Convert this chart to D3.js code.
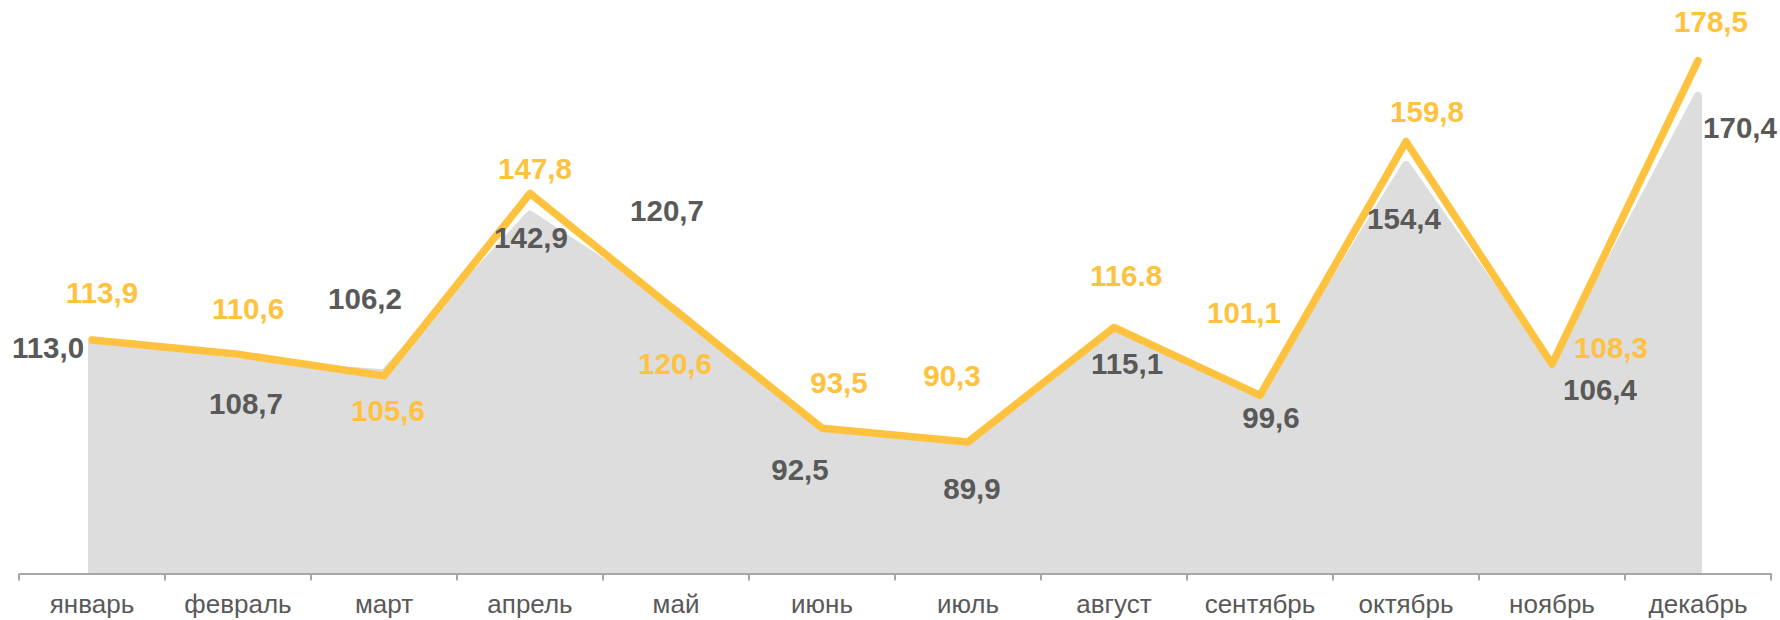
<!DOCTYPE html>
<html>
<head>
<meta charset="utf-8">
<script src="https://cdn.jsdelivr.net/npm/d3@7"></script>
<style>
  html, body { margin: 0; padding: 0; background: #ffffff; }
  svg { display: block; }
</style>
</head>
<body>
<svg id="chart" width="1780" height="620"></svg>
<script>
// ---- data ----
const months = ["январь", "февраль", "март", "апрель", "май", "июнь", "июль", "август", "сентябрь", "октябрь", "ноябрь", "декабрь"];
const yellowValues = [113.9, 110.6, 105.6, 147.8, 120.6, 93.5, 90.3, 116.8, 101.1, 159.8, 108.3, 178.5];
const grayValues   = [113.0, 108.7, 106.2, 142.9, 120.7, 92.5, 89.9, 115.1, 99.6, 154.4, 106.4, 170.4];
const yellowLabels = ["113,9", "110,6", "105,6", "147,8", "120,6", "93,5", "90,3", "116.8", "101,1", "159,8", "108,3", "178,5"];
const grayLabels   = ["113,0", "108,7", "106,2", "142,9", "120,7", "92,5", "89,9", "115,1", "99,6", "154,4", "106,4", "170,4"];

// ---- label placement (offsets from each point, px) ----
const yellowOffsets = [[10,-47],[10,-46],[4,35],[5,-25],[-1,52],[17,-46],[-16,-67],[12,-52],[-16,-83],[21,-30],[59,-17],[13,-39]];
const grayOffsets   = [[-44,4],[8,41],[-19,-75],[1,23],[-9,-100],[-22,37],[4,45],[13,29],[11,16],[-2,54],[48,17],[42,32]];

// ---- styles ----
const YELLOW = "#FFC23E";
const AREA = "#DDDDDD";
const TEXT_GRAY = "#595959";
const AXIS = "#A6A6A6";
const FONT = "'Liberation Sans', Arial, sans-serif";

const svg = d3.select("#chart");

const x = d3.scaleBand().domain(months).range([19, 1771]).padding(0);
const y = d3.scaleLinear().domain([60, 190]).range([573, 11]);
const cx = m => x(m) + x.bandwidth() / 2;

const rows = months.map((m, i) => ({ m, i, yv: yellowValues[i], gv: grayValues[i] }));

// gray area
const area = d3.area()
  .x(d => cx(d.m))
  .y0(571)
  .y1(d => y(d.gv))
  .curve(d3.curveLinear);

svg.append("path")
  .datum(rows)
  .attr("d", area)
  .attr("fill", AREA)
  .attr("stroke", AREA)
  .attr("stroke-width", 8)
  .attr("stroke-linejoin", "round");

// axis
const axis = d3.axisBottom(x).tickSize(7).tickSizeOuter(0).tickPadding(14);
const gAxis = svg.append("g").attr("transform", "translate(0,573.5)").call(axis);
gAxis.select(".domain").attr("stroke", AXIS).attr("stroke-width", 2);
// tick marks at band boundaries
gAxis.selectAll(".tick line").remove();
const bounds = months.map(m => x(m)).concat([x(months[months.length - 1]) + x.bandwidth()]);
gAxis.selectAll(".bound").data(bounds).enter().append("line")
  .attr("class", "bound")
  .attr("x1", d => d).attr("x2", d => d)
  .attr("y1", 0).attr("y2", 7)
  .attr("stroke", AXIS).attr("stroke-width", 2);
gAxis.selectAll(".tick text")
  .attr("font-family", FONT)
  .attr("font-size", 26)
  .attr("fill", TEXT_GRAY);

// yellow line
const line = d3.line().x(d => cx(d.m)).y(d => y(d.yv));
svg.append("path")
  .datum(rows)
  .attr("d", line)
  .attr("fill", "none")
  .attr("stroke", YELLOW)
  .attr("stroke-width", 7.5)
  .attr("stroke-linejoin", "round")
  .attr("stroke-linecap", "round");

// labels
svg.append("g").selectAll("text").data(rows).enter().append("text")
  .attr("x", d => cx(d.m) + grayOffsets[d.i][0])
  .attr("y", d => y(d.gv) + grayOffsets[d.i][1] + 10.5)
  .attr("text-anchor", "middle")
  .attr("font-family", FONT)
  .attr("font-weight", "bold")
  .attr("font-size", 29.5)
  .attr("fill", TEXT_GRAY)
  .text(d => grayLabels[d.i]);

svg.append("g").selectAll("text").data(rows).enter().append("text")
  .attr("x", d => cx(d.m) + yellowOffsets[d.i][0])
  .attr("y", d => y(d.yv) + yellowOffsets[d.i][1] + 10.5)
  .attr("text-anchor", "middle")
  .attr("font-family", FONT)
  .attr("font-weight", "bold")
  .attr("font-size", 29.5)
  .attr("fill", YELLOW)
  .text(d => yellowLabels[d.i]);
</script>
</body>
</html>
